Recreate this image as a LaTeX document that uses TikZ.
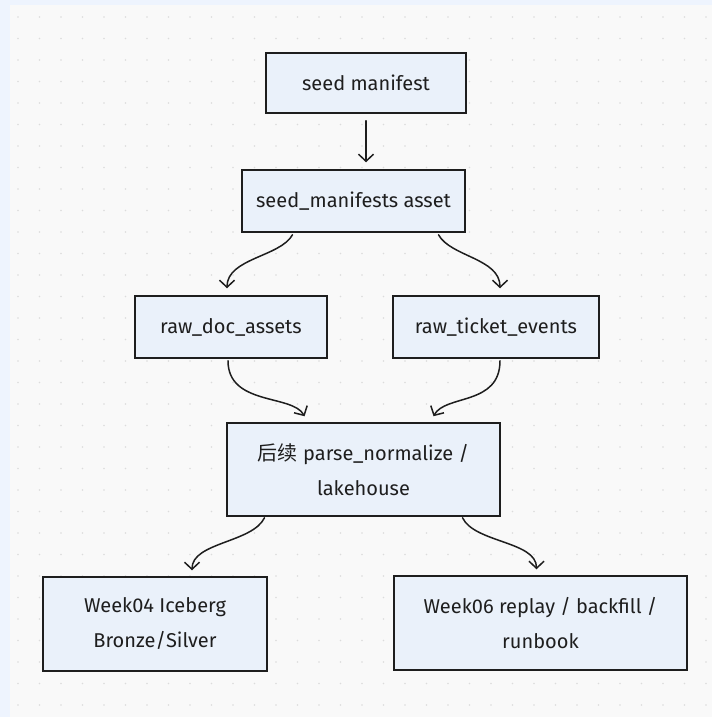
\documentclass[tikz,border=0pt]{standalone}
\usepackage{fontspec}
\setmainfont{Fira Sans}
\newfontfamily\cjk{Noto Sans CJK SC}
\usetikzlibrary{arrows.meta,calc}
\definecolor{bgblue}{HTML}{EEF4FE}
\definecolor{panel}{HTML}{F9F9F9}
\definecolor{boxfill}{HTML}{EAF1FA}
\definecolor{ink}{HTML}{1E1E1E}
\definecolor{dotc}{HTML}{DCDCDC}
\tikzset{
  box/.style={draw=ink, fill=boxfill, line width=1.5pt, inner sep=0pt, align=center,
    font=\fontsize{20}{35}\selectfont, text=ink},
  conn/.style={draw=ink, line width=1.5pt, line cap=round,
    -{Straight Barb[length=7pt,width=15pt,line width=1.5pt]}}
}
\begin{document}
\begin{tikzpicture}[x=1pt,y=-1pt]
\useasboundingbox (0,0) rectangle (712,717);
\fill[bgblue] (0,0) rectangle (712,717);
\fill[panel] (10,5) rectangle (712,717);
\foreach \i in {0,...,32}{
  \foreach \j in {0,...,32}{
    \fill[dotc] ({18+21.5*\i},{17+21.5*\j}) circle (0.9);
  }
}
\node[box, minimum width=200pt, minimum height=60pt] (seed) at (366,83) {seed manifest};
\node[box, minimum width=223pt, minimum height=62pt] (sma) at (353.5,201) {seed\_manifests asset};
\node[box, minimum width=192pt, minimum height=62pt] (rda) at (231,327) {raw\_doc\_assets};
\node[box, minimum width=206pt, minimum height=62pt] (rte) at (496,327) {raw\_ticket\_events};
\node[box, minimum width=273pt, minimum height=93pt] (pn) at (363.5,469.5) {{\cjk 后续} parse\_normalize /\\lakehouse};
\node[box, minimum width=224pt, minimum height=94pt] (w4) at (155,624) {Week04 Iceberg\\Bronze/Silver};
\node[box, minimum width=293pt, minimum height=94pt] (w6) at (540.5,623) {Week06 replay / backfill /\\runbook};

\coordinate (a1) at ($(seed.south)+(0,7)$);
\draw[conn] (a1) -- (a1 |- {$(sma.north)+(0,-7)$});
\draw[conn] ($(sma.south)+(-61,2)$) .. controls +(-12,22) and +(0,-30) .. ($(rda.north)+(-4,-7)$);
\draw[conn] ($(sma.south)+(85,2)$) .. controls +(12,22) and +(0,-30) .. ($(rte.north)+(4,-7)$);
\draw[conn] ($(rda.south)+(-3,2)$) .. controls +(0,45) and +(-12,-22) .. ($(pn.north)+(-59,-6)$);
\draw[conn] ($(rte.south)+(4,2)$) .. controls +(0,45) and +(12,-22) .. ($(pn.north)+(70,-6)$);
\draw[conn] ($(pn.south)+(-99,1)$) .. controls +(-12,25) and +(0,-28) .. ($(w4.north)+(37,-6)$);
\draw[conn] ($(pn.south)+(99,1)$) .. controls +(12,25) and +(0,-28) .. ($(w6.north)+(-4,-6)$);
\end{tikzpicture}
\end{document}
